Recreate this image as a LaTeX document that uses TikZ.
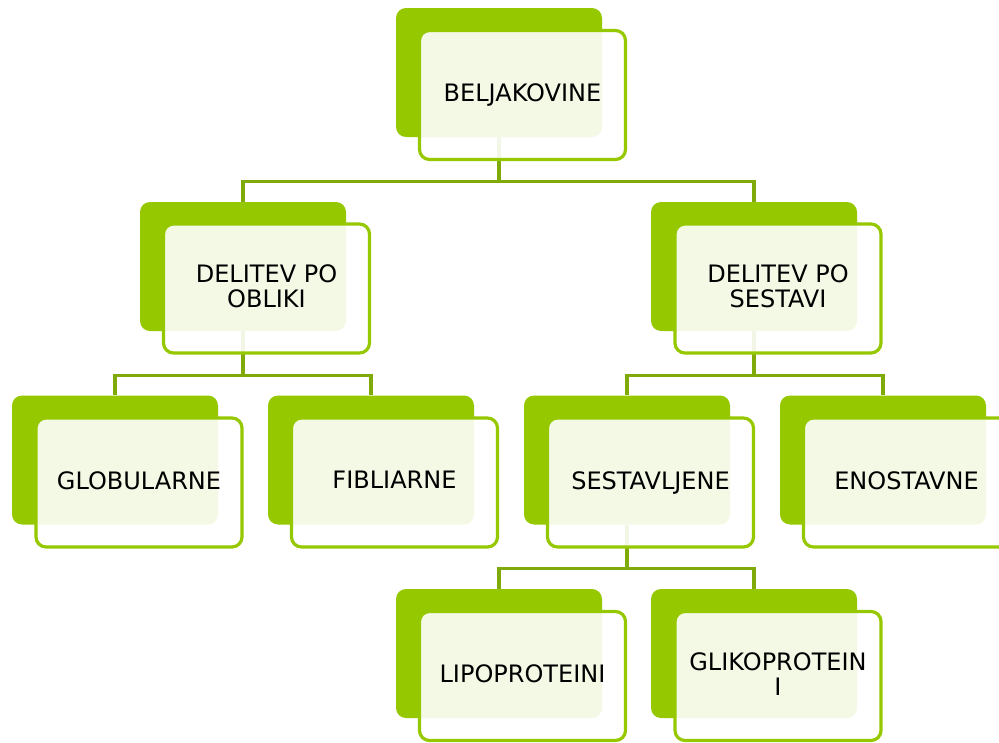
\documentclass[tikz,border=0pt]{standalone}
\usepackage{fontspec}
\setmainfont{DejaVu Sans}
\usepackage{tikz}
\usetikzlibrary{positioning}

\definecolor{leafgreen}{RGB}{150,200,0}
\definecolor{stemgreen}{RGB}{128,170,10}

\tikzset{
  backbox/.style={fill=leafgreen, rounded corners=10pt, minimum width=206pt,
    minimum height=129pt, inner sep=0pt},
  frontbox/.style={draw=leafgreen, line width=3.2pt, fill=white, fill opacity=0.9,
    text opacity=1, rounded corners=10pt, minimum width=206pt, minimum height=129pt,
    inner sep=0pt, align=center, font=\fontsize{24pt}{25pt}\selectfont,
    execute at begin node={\vphantom{J}}},
  link/.style={draw=stemgreen, line width=3.4pt}
}

\begin{document}
\begin{tikzpicture}[x=1pt, y=-1pt]
\useasboundingbox (0,0) rectangle (999,742);
% back boxes
\node[backbox] (bel) at (499,72.5) {};
\node[backbox] (obl) at (243,266.5) {};
\node[backbox] (ses) at (754,266.5) {};
\node[backbox] (glo) at (115,460) {};
\node[backbox] (fib) at (371,460) {};
\node[backbox] (sest) at (627,460) {};
\node[backbox] (eno) at (883,460) {};
\node[backbox] (lip) at (499,653.5) {};
\node[backbox] (gli) at (754,653.5) {};
% links
\draw[link] (bel.south) -- ++(0,44) -| (obl.north);
\draw[link] (bel.south) -- ++(0,44) -| (ses.north);
\draw[link] (obl.south) -- ++(0,44) -| (glo.north);
\draw[link] (obl.south) -- ++(0,44) -| (fib.north);
\draw[link] (ses.south) -- ++(0,44) -| (sest.north);
\draw[link] (ses.south) -- ++(0,44) -| (eno.north);
\draw[link] (sest.south) -- ++(0,44) -| (lip.north);
\draw[link] (sest.south) -- ++(0,44) -| (gli.north);
% front boxes
\node[frontbox] (bel-f) at (522.5,95) {BELJAKOVINE};
\node[frontbox] (obl-f) at (266.5,288.5) {DELITEV PO\\OBLIKI};
\node[frontbox] (ses-f) at (778,288.5) {DELITEV PO\\SESTAVI};
\node[frontbox] (glo-f) at (139,482.5) {GLOBULARNE};
\node[frontbox] (fib-f) at (394.5,482.5) {FIBLIARNE};
\node[frontbox] (sest-f) at (650.5,482.5) {SESTAVLJENE};
\node[frontbox] (eno-f) at (906.5,482.5) {ENOSTAVNE};
\node[frontbox] (lip-f) at (522.5,676) {LIPOPROTEINI};
\node[frontbox] (gli-f) at (778,676) {GLIKOPROTEIN\\I};
\end{tikzpicture}
\end{document}
